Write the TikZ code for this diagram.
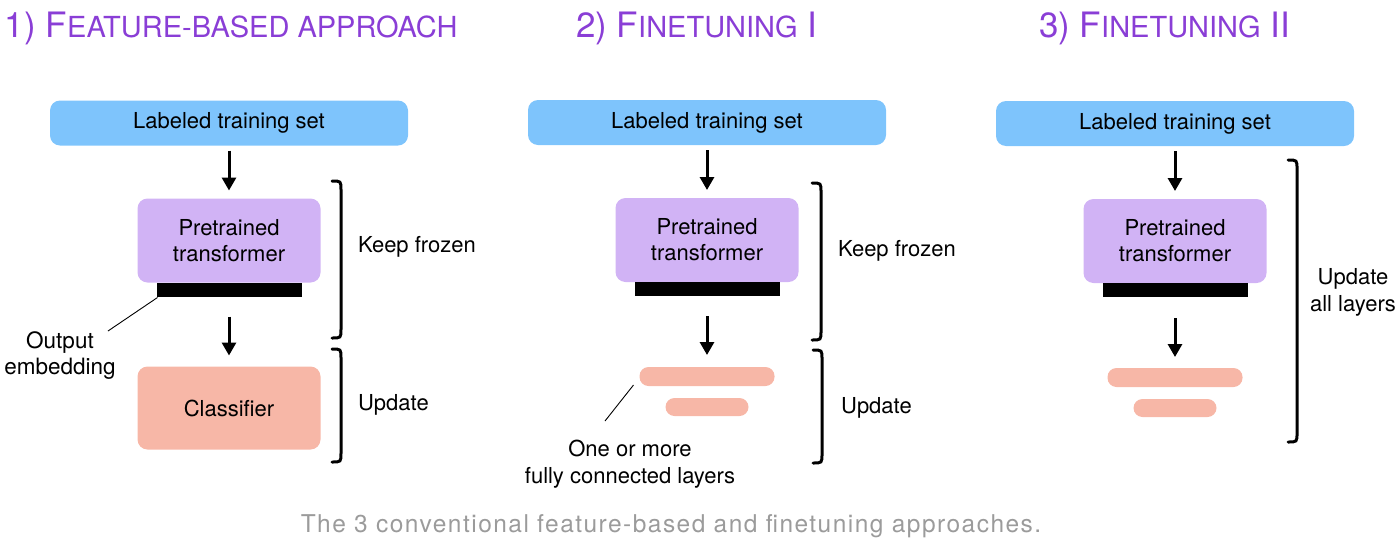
\documentclass[tikz,border=0pt]{standalone}
\usepackage{fontspec}
\setmainfont{TeX Gyre Heros}
\newfontfamily\capfont[LetterSpace=6]{TeX Gyre Heros}
\usetikzlibrary{arrows.meta,positioning}
\definecolor{setblue}{HTML}{7EC4FC}
\definecolor{tfpurple}{HTML}{D1B3F5}
\definecolor{layerpink}{HTML}{F7B7A7}
\definecolor{titlepurple}{HTML}{8A3ED6}
\definecolor{capgray}{HTML}{9B9B9B}
\def\big#1{{\fontsize{35}{42}\selectfont#1}}
\def\sml#1{{\fontsize{29}{34}\selectfont#1}}
\def\sidebrace#1#2#3{\draw[brace] (#1-9,#2) .. controls (#1,#2) .. (#1,#2+9) -- (#1,#3-9) .. controls (#1,#3) .. (#1-9,#3);}

\begin{document}
\begin{tikzpicture}[x=1pt,y=-1pt,node distance=53pt,
    ->,>={Triangle[width=14pt,length=13pt]},line width=3pt,
    every node/.style={outer sep=0pt},
    box/.style={rounded corners=10pt,inner sep=0pt,align=center,font=\fontsize{22}{26}\selectfont},
    set node/.style={box,fill=setblue,minimum width=358pt,minimum height=45pt},
    tf node/.style={box,fill=tfpurple,minimum width=183pt,minimum height=84pt},
    emb node/.style={fill=black,inner sep=0pt,minimum width=145pt,minimum height=14pt},
    fc node/.style={fill=layerpink,rounded corners=9pt,inner sep=0pt,minimum height=19pt},
    lbl/.style={inner sep=0pt,align=center,font=\fontsize{22}{27}\selectfont},
    title/.style={inner sep=0pt,anchor=base west,text=titlepurple},
    brace/.style={-,line width=3pt,line cap=round},
    pointer/.style={-,line width=0.9pt}]
  \useasboundingbox (0,0) rectangle (1400,544);

  % titles
  \node[title] (t1) at (5,37) {\big{1) F}\sml{EATURE-BASED APPROACH}};
  \node[title] (t2) at (576,37) {\big{2) F}\sml{INETUNING}\big{ I}};
  \node[title] (t3) at (1039,37) {\big{3) F}\sml{INETUNING}\big{ II}};

  % 1) feature-based
  \node[set node] (lab1) at (229,123) {Labeled training set};
  \node[tf node] (pre1) [below=of lab1] {Pretrained\\transformer};
  \node[emb node] (emb1) [below=0pt of pre1] {};
  \node[box,fill=layerpink,minimum width=183pt,minimum height=83pt] (cls1) [below=70pt of emb1] {Classifier};
  \node[lbl,font=\fontsize{22.5}{26}\selectfont] (oe) at (60,356) {Output\\embedding};
  \coordinate (oetip) at (108,331);

  % 2) finetuning I
  \node[set node] (lab2) at (707,122.5) {Labeled training set};
  \node[tf node] (pre2) [below=of lab2] {Pretrained\\transformer};
  \node[emb node] (emb2) [below=0pt of pre2] {};
  \node[fc node,minimum width=135pt] (fc2a) [below=71pt of emb2] {};
  \node[fc node,minimum width=83pt,minimum height=18pt] (fc2b) [below=12pt of fc2a] {};
  \node[lbl] (fcl) at (630,464) {One or more\\fully connected layers};
  \coordinate (fctip) at (605,421);

  % 3) finetuning II
  \node[set node] (lab3) at (1175,123.5) {Labeled training set};
  \node[tf node] (pre3) [below=of lab3] {Pretrained\\transformer};
  \node[emb node] (emb3) [below=0pt of pre3] {};
  \node[fc node,minimum width=135pt] (fc3a) [below=71pt of emb3] {};
  \node[fc node,minimum width=83pt,minimum height=18pt] (fc3b) [below=12pt of fc3a] {};

  \path
    (lab1) edge[shorten <=5pt,shorten >=8pt] (pre1)
    (emb1) edge[shorten <=20pt,shorten >=11pt] (cls1)
    (lab2) edge[shorten <=5pt,shorten >=8pt] (pre2)
    (emb2) edge[shorten <=20pt,shorten >=12pt] (fc2a)
    (lab3) edge[shorten <=5pt,shorten >=8pt] (pre3)
    (emb3) edge[shorten <=21pt,shorten >=11pt] (fc3a);

  \draw[pointer] ([xshift=1pt,yshift=-1pt]emb1.south west) -- (oetip);
  \draw[pointer] ([xshift=-6pt,yshift=1pt]fc2a.south west) -- (fctip);

  % braces and what they say
  \sidebrace{341}{181}{338}
  \sidebrace{341}{349}{462}
  \sidebrace{821}{183}{340}
  \sidebrace{822}{350}{463}
  \sidebrace{1297}{160}{442}
  \node[lbl,anchor=west] (kf1) at (358,247) {Keep frozen};
  \node[lbl,anchor=west] (up1) at (358,405) {Update};
  \node[lbl,anchor=west] (kf2) at (838,251) {Keep frozen};
  \node[lbl,anchor=west] (up2) at (841,408) {Update};
  \node[lbl] (up3) at (1353,292) {Update\\all layers};

  % caption
  \node[inner sep=0pt,text=capgray,font=\capfont\fontsize{24.5}{30}\selectfont] (cap) at (671,526)
    {The 3 conventional feature-based and finetuning approaches.};
\end{tikzpicture}
\end{document}
